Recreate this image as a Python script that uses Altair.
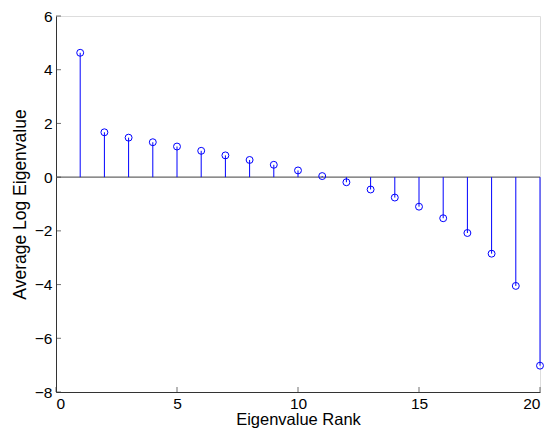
import altair as alt
import pandas as pd

rank = list(range(1, 21))
avg_log_eig = [4.63, 1.67, 1.47, 1.30, 1.14, 0.98, 0.81, 0.64, 0.46, 0.25,
               0.04, -0.19, -0.46, -0.76, -1.10, -1.53, -2.08, -2.85, -4.05, -7.02]
x_ticks = [0, 5, 10, 15, 20]
y_ticks = [-8, -6, -4, -2, 0, 2, 4, 6]

df = pd.DataFrame({"rank": rank, "val": avg_log_eig, "zero": [0] * len(rank)})
xt = pd.DataFrame({"t": x_ticks, "b": [-8] * len(x_ticks)})
yt = pd.DataFrame({"t": y_ticks, "l": [0] * len(y_ticks)})
base_df = pd.DataFrame({"x0": [0], "x1": [20], "y": [0]})

FONT = "Liberation Sans"
xs = alt.Scale(domain=[0, 20], nice=False, zero=False)
ys = alt.Scale(domain=[-8, 6], nice=False, zero=False)

x_axis = alt.Axis(values=x_ticks, ticks=False, labelFontSize=15.5, titleFontSize=16.5,
                  labelPadding=4, titlePadding=0, domainColor="#333333", labelColor="black",
                  titleColor="black", grid=False, labelFont=FONT, titleFont=FONT,
                  titleFontWeight="normal")
y_axis = alt.Axis(values=y_ticks, ticks=False, labelFontSize=15.5, titleFontSize=17.5,
                  labelPadding=4, titlePadding=5, domainColor="#333333", labelColor="black",
                  titleColor="black", grid=False, labelFont=FONT, titleFont=FONT,
                  titleFontWeight="normal", format="d")

baseline = alt.Chart(base_df).mark_rule(color="#666666", strokeWidth=1.2).encode(
    x=alt.X("x0:Q", scale=xs, axis=x_axis, title="Eigenvalue Rank"),
    x2="x1:Q",
    y=alt.Y("y:Q", scale=ys, axis=y_axis, title="Average Log Eigenvalue"),
)

stems = alt.Chart(df).mark_rule(color="#0000ff", strokeWidth=1).encode(
    x=alt.X("rank:Q", scale=xs),
    y=alt.Y("zero:Q", scale=ys),
    y2="val:Q",
)

pts = alt.Chart(df).mark_point(shape="circle", filled=False, color="#0000ff",
                               size=48, strokeWidth=1, opacity=1).encode(
    x=alt.X("rank:Q", scale=xs),
    y=alt.Y("val:Q", scale=ys),
)

xticks = alt.Chart(xt).mark_tick(color="#333333", orient="vertical", size=5,
                                 thickness=1, yOffset=-2.5).encode(
    x=alt.X("t:Q", scale=xs),
    y=alt.Y("b:Q", scale=ys),
)
yticks = alt.Chart(yt).mark_tick(color="#333333", orient="horizontal", size=5,
                                 thickness=1, xOffset=2.5).encode(
    x=alt.X("l:Q", scale=xs),
    y=alt.Y("t:Q", scale=ys),
)

chart = alt.layer(baseline, stems, pts, xticks, yticks).properties(
    width=484, height=376,
    autosize=alt.AutoSizeParams(type="none"),
    padding={"left": 48, "top": 8, "right": 8, "bottom": 38},
).configure_view(stroke=None).configure(background="white")

chart.save("out.html", embed_options={"renderer": "svg", "actions": False})
